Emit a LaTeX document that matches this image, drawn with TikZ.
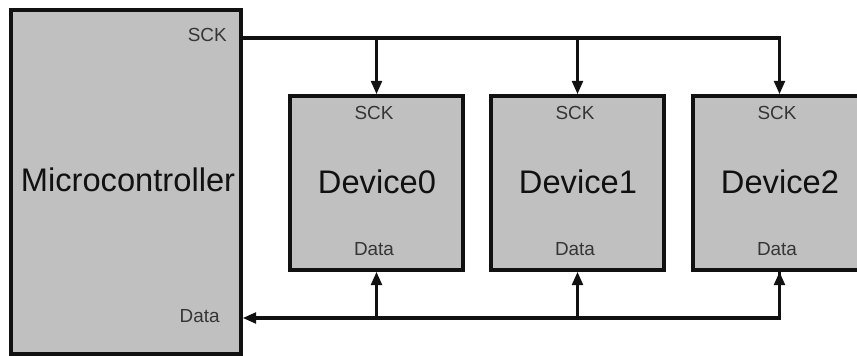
\documentclass[tikz,border=0pt]{standalone}
\usepackage{fontspec}
\setmainfont{Liberation Sans}
\usetikzlibrary{arrows.meta}
\definecolor{boxfill}{HTML}{C0C0C0}
\definecolor{ink}{HTML}{111111}
\begin{document}
\begin{tikzpicture}[x=0.75pt,y=-0.75pt,
  blockbox/.style={draw=ink,fill=boxfill,line width=2.6pt,inner sep=0pt},
  bigtext/.style={font=\fontsize{24.5}{28}\selectfont,text=ink,inner sep=0pt,anchor=base},
  smalltext/.style={font=\fontsize{14.2}{17}\selectfont,text=ink!85,inner sep=0pt},
  wire/.style={draw=ink,line width=2.3pt},
  arr/.style={wire,-{Triangle[length=10pt,width=8pt]}}]
\useasboundingbox (0,0) rectangle (857,356);
\clip (0,0) rectangle (857,356);
% blocks
\node[blockbox,minimum width=230*0.75pt,minimum height=344*0.75pt] (micro) at (126,182) {};
\node[blockbox,minimum width=173*0.75pt,minimum height=174*0.75pt] (d0) at (376.5,183) {};
\node[blockbox,minimum width=173*0.75pt,minimum height=174*0.75pt] (d1) at (577.5,183) {};
\node[blockbox,minimum width=173*0.75pt,minimum height=174*0.75pt] (d2) at (779.5,183) {};
% texts
\node[bigtext] (tmicro) at (128,192) {Microcontroller};
\node[bigtext] (t0) at (377,194) {Device0};
\node[bigtext] (t1) at (578,194) {Device1};
\node[bigtext] (t2) at (780,194) {Device2};
\node[smalltext,anchor=base east] (msck) at (227,42) {SCK};
\node[smalltext,anchor=base east] (mdata) at (220,322) {Data};
\node[smalltext,anchor=base] (s0) at (374,120) {SCK};
\node[smalltext,anchor=base] (s1) at (575,120) {SCK};
\node[smalltext,anchor=base] (s2) at (777,120) {SCK};
\node[smalltext,anchor=base] (dd0) at (374,256) {Data};
\node[smalltext,anchor=base] (dd1) at (575,256) {Data};
\node[smalltext,anchor=base] (dd2) at (777,256) {Data};
% bus coordinates
\coordinate (sckbus) at (0,38);
\coordinate (databus) at (0,318);
% SCK bus
\draw[arr] (micro.east |- sckbus) -- (d2.north |- sckbus) -- (d2.north);
\draw[arr] (d0.north |- sckbus) -- (d0.north);
\draw[arr] (d1.north |- sckbus) -- (d1.north);
% Data bus
\draw[arr] (d2.south) -- (d2.south |- databus) -- (micro.east |- databus);
\draw[arr] (d0.south |- databus) -- (d0.south);
\draw[arr] (d1.south |- databus) -- (d1.south);
\draw[arr] (d2.south |- databus) -- (d2.south);
\end{tikzpicture}
\end{document}
